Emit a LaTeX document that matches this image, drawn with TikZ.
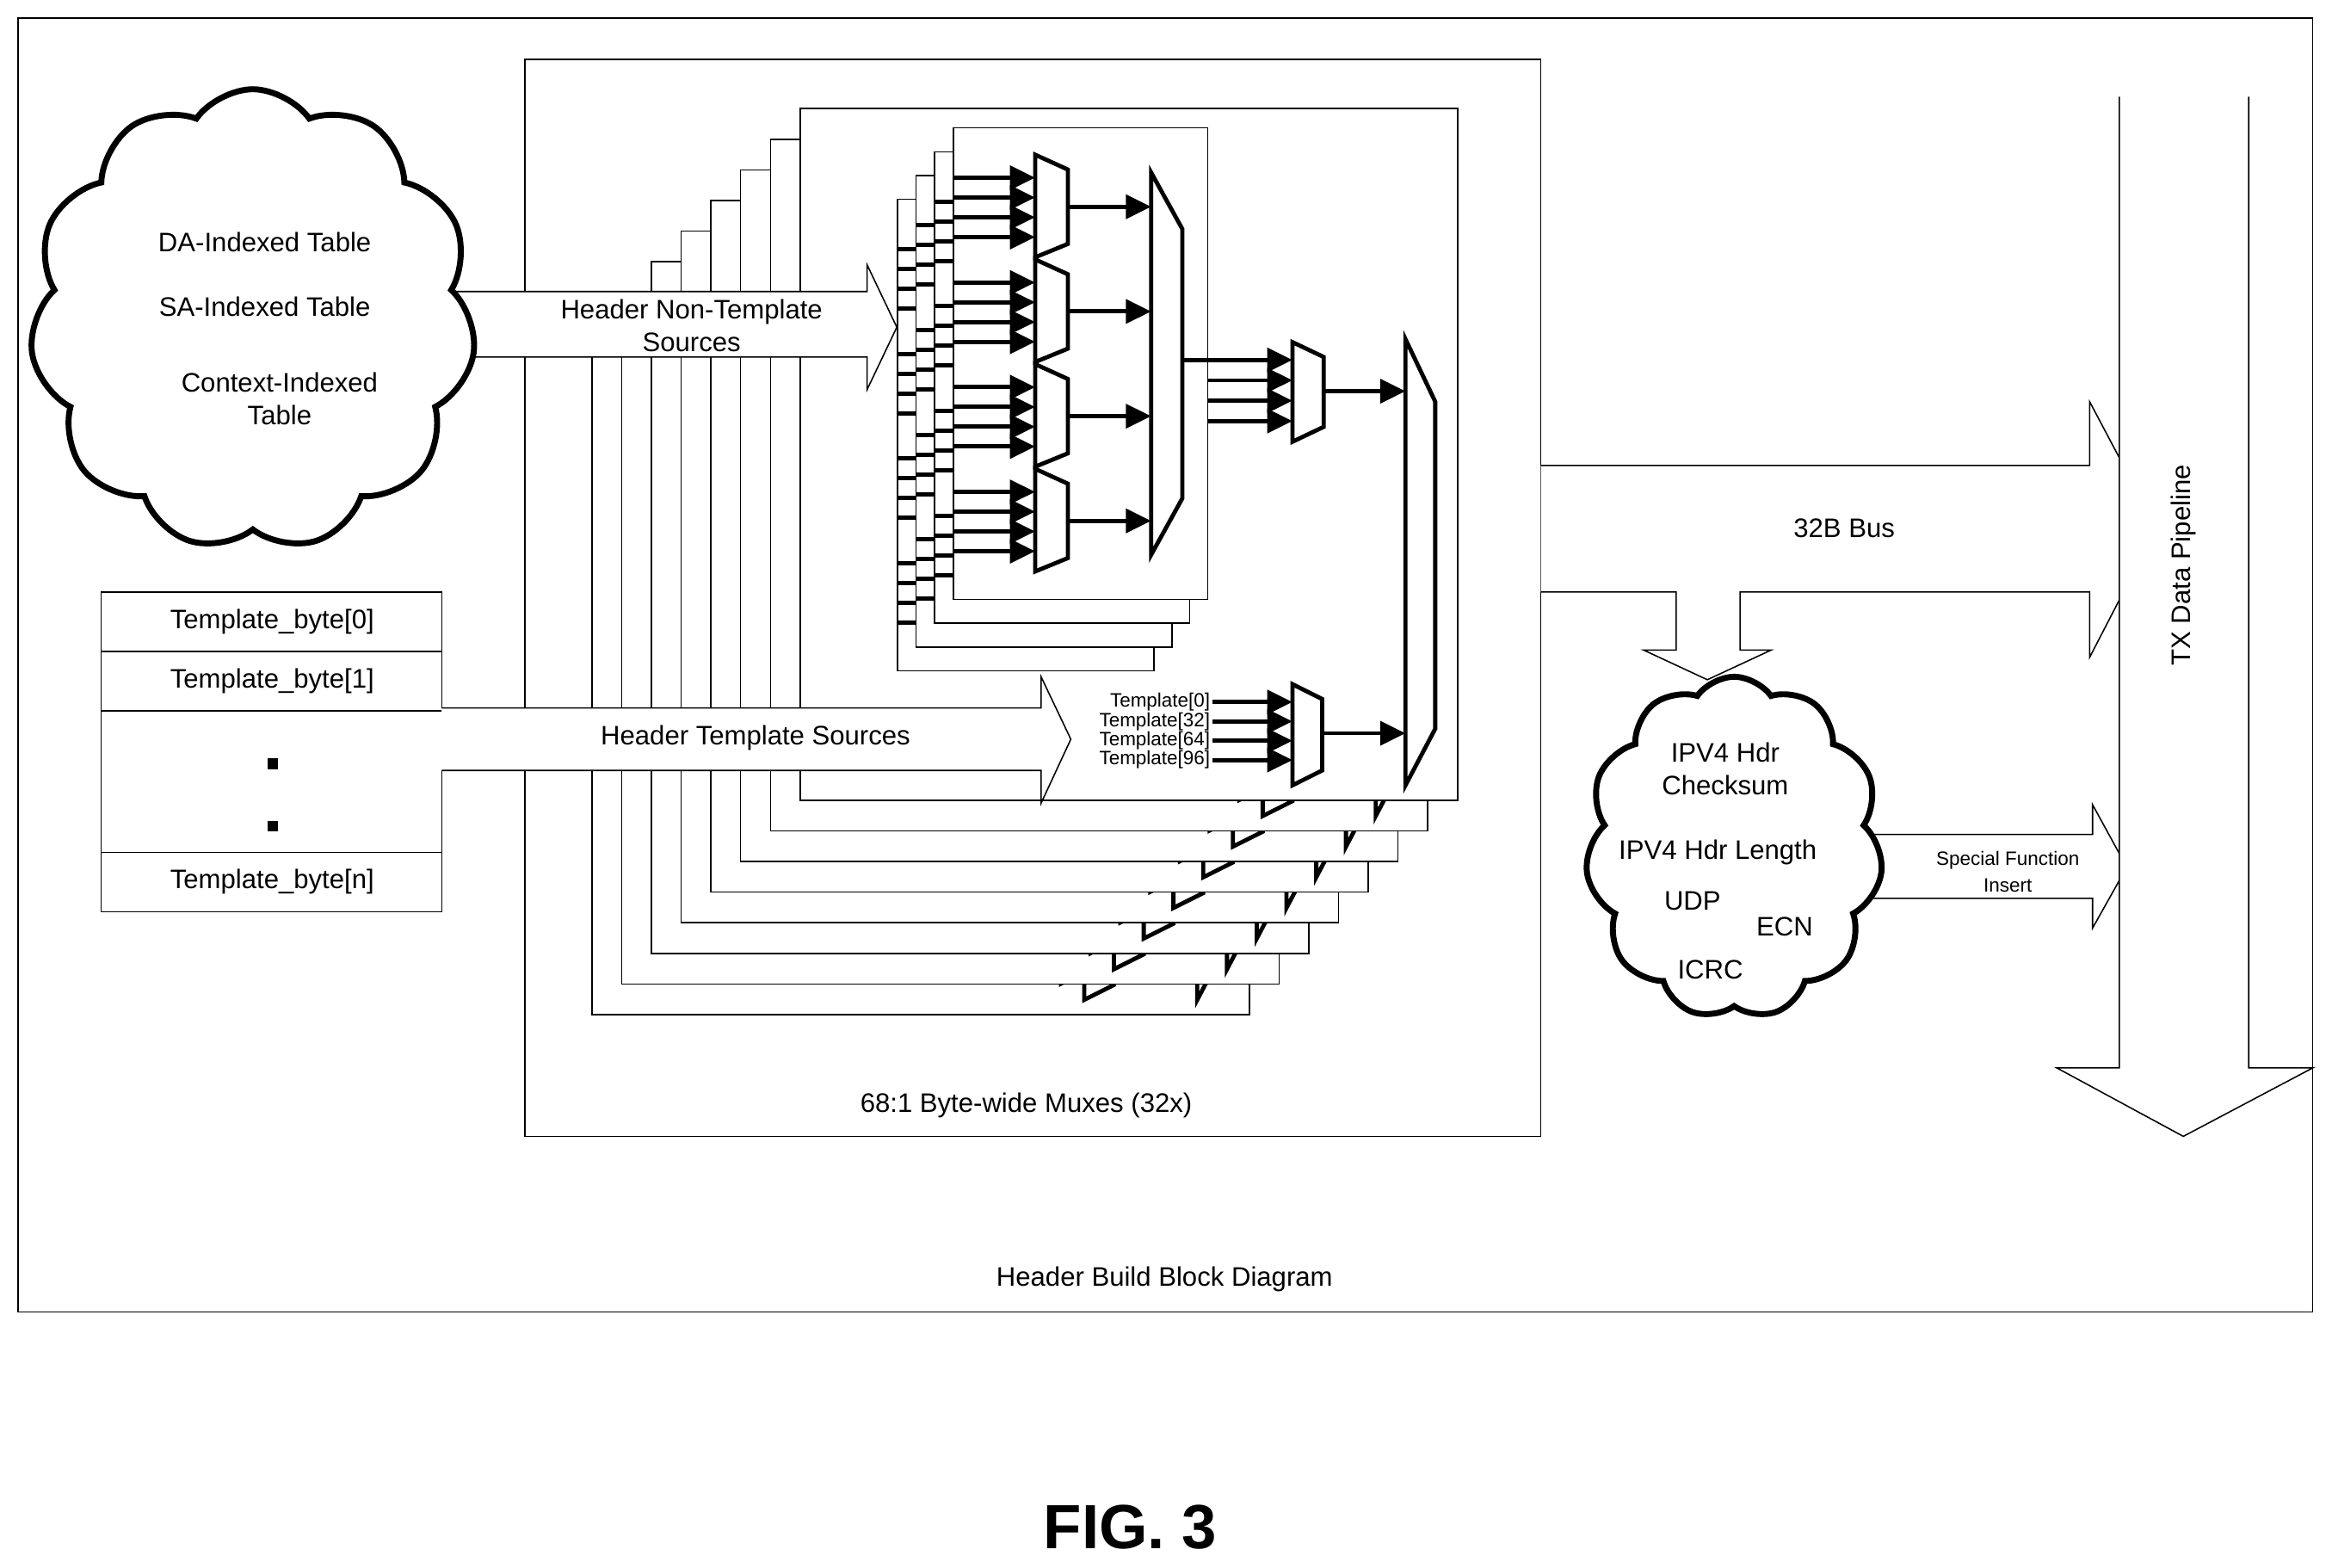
\documentclass[tikz,border=0pt]{standalone}
\usepackage{fontspec}
\setmainfont{Liberation Sans}
\usetikzlibrary{shapes.symbols,arrows.meta}
\begin{document}
\begin{tikzpicture}[x=0.5pt,y=-0.5pt,
  thinl/.style={line width=0.45pt},
  page/.style={line width=0.45pt,fill=white},
  mux/.style={line width=1.4pt,fill=white,line join=miter},
  sig/.style={line width=1.4pt,-{Triangle[length=8.5pt,width=8pt]}},
  stub/.style={line width=1.4pt},
  lbl/.style={font=\fontsize{9}{11}\selectfont,inner sep=0pt,align=center},
  tlbl/.style={font=\fontsize{6.5}{7}\selectfont,inner sep=0pt,anchor=east},
  small/.style={font=\fontsize{6.5}{8}\selectfont,inner sep=0pt,align=center},
  cloudy/.style={cloud,draw,line width=2pt,fill=white,cloud puffs=11,cloud puff arc=110}]
\useasboundingbox (0,0) rectangle (1568,1054);
\newcommand\pagecontent{%
  \draw[page] (0,0) rectangle (442,465);
  \foreach \k in {3,2,1}{%
    \draw[page] ({103-12.5*\k},{13+16*\k}) rectangle ({274-12*\k},{330+16*\k});
    \foreach \m in {0,...,3}{\foreach \j in {0,...,3}{%
      \draw[stub] ({103-12.5*\k},{46.5+16*\k+70.4*\m+13.3*\j}) -- ++(40,0);}}}
  \draw[page] (103,13) rectangle (274,330);
  \foreach \m in {0,...,3}{%
    \foreach \j in {0,...,3}{\draw[sig] (103,{46.5+70.4*\m+13.3*\j}) -- (158,{46.5+70.4*\m+13.3*\j});}
    \draw[mux] (158,{31+70.4*\m}) -- (180,{41+70.4*\m}) -- (180,{91+70.4*\m}) -- (158,{100+70.4*\m}) -- cycle;
    \draw[sig] (180,{66+70.4*\m}) -- (236,{66+70.4*\m});}
  \draw[mux] (236,43) -- (257,81) -- (257,262) -- (236,300) -- cycle;
  \draw[sig] (257,169) -- (331,169);
  \foreach \j in {1,2,3}{\draw[sig] (274,{169+13.7*\j}) -- (331,{169+13.7*\j});}
  \draw[mux] (331,157) -- (352,167) -- (352,214) -- (331,224) -- cycle;
  \draw[sig] (352,190) -- (407,190);
  \foreach \t/\q in {0/0,32/1,64/2,96/3}{%
    \ifnum\i=0 \node[tlbl] at (276,{399+13*\q}) {Template[\t]};\fi
    \draw[sig] (277,{399+13*\q}) -- (331,{399+13*\q});}
  \draw[mux] (331,387) -- (351,397) -- (351,445) -- (331,455) -- cycle;
  \draw[sig] (351,420) -- (407,420);
  \draw[mux] (407,155) -- (427,197) -- (427,417) -- (407,455) -- cycle;
}
% frames
\draw[thinl] (12,12) rectangle (1555,882);
\node[lbl] (title) at (783,860) {Header Build Block Diagram};
\node[font=\bfseries\fontsize{21}{24}\selectfont] (fig) at (760,1027) {FIG. 3};
\draw[page] (353,40) rectangle (1036,764);
\node[lbl] (muxlbl) at (690,743) {68:1 Byte-wide Muxes (32x)};
% stacked pages
\foreach \i in {7,6,...,0}{%
  \begin{scope}[shift={({538-20*\i},{73+20.6*\i})}]
    \pagecontent
  \end{scope}}
% non-template arrow
\fill[white] (300,196) -- (583,196) -- (583,178) -- (603,220) -- (583,262) -- (583,240) -- (300,240) -- cycle;
\draw[thinl] (300,196) -- (583,196) -- (583,178) -- (603,220) -- (583,262) -- (583,240) -- (300,240);
\node[lbl] (nts) at (465,219) {Header Non-Template\\[0pt]Sources};
% left cloud
\node[cloudy,minimum width=150pt,minimum height=155pt] (tables) at (170,215) {};
\node[lbl] (da) at (178,163) {DA-Indexed Table};
\node[lbl] (sa) at (178,206) {SA-Indexed Table};
\node[lbl] (ctx) at (188,268) {Context-Indexed\\[0pt]Table};
% template table
\fill[white] (68,398) rectangle (297,613);
\draw[thinl] (297,476) -- (297,398) -- (68,398) -- (68,613) -- (297,613) -- (297,518);
\draw[thinl] (68,438) -- (297,438) (68,478) -- (297,478) (68,573) -- (297,573);
\node[lbl] (t0) at (183,418) {Template\_byte[0]};
\node[lbl] (t1) at (183,458) {Template\_byte[1]};
\node[lbl] (tn) at (183,593) {Template\_byte[n]};
\fill (180,510) rectangle (187,517);
\fill (180,552) rectangle (187,559);
% template arrow
\fill[white] (297,476) -- (700,476) -- (700,455) -- (720,497) -- (700,540) -- (700,518) -- (297,518) -- cycle;
\draw[thinl] (297,476) -- (700,476) -- (700,455) -- (720,497) -- (700,540) -- (700,518) -- (297,518);
\node[lbl] (ts) at (508,496) {Header Template Sources};
% bus arrow
\fill[white] (1036,313) -- (1405,313) -- (1405,270) -- (1450,355) -- (1405,442) -- (1405,398) -- (1170,398) -- (1170,437) -- (1191,437) -- (1148,457) -- (1105,437) -- (1127,437) -- (1127,398) -- (1036,398) -- cycle;
\draw[thinl] (1036,313) -- (1405,313) -- (1405,270) -- (1450,355) -- (1405,442) -- (1405,398) -- (1170,398) -- (1170,437) -- (1191,437) -- (1148,457) -- (1105,437) -- (1127,437) -- (1127,398) -- (1036,398);
\node[lbl] (bus) at (1240,355) {32B Bus};
% special function arrow
\fill[white] (1240,561) -- (1407,561) -- (1407,541) -- (1430,583) -- (1407,624) -- (1407,604) -- (1240,604) -- cycle;
\draw[thinl] (1240,561) -- (1407,561) -- (1407,541) -- (1430,583) -- (1407,624) -- (1407,604) -- (1240,604);
\node[small] (sfi) at (1350,586) {Special Function\\[1pt]Insert};
% right cloud
\node[cloudy,minimum width=100pt,minimum height=115pt] (func) at (1166,570) {};
\node[lbl] (ip1) at (1160,517) {IPV4 Hdr\\[0pt]Checksum};
\node[lbl] (ip2) at (1155,573) {IPV4 Hdr Length};
\node[lbl] (udp) at (1138,606) {UDP};
\node[lbl] (ecn) at (1200,623) {ECN};
\node[lbl] (icrc) at (1150,652) {ICRC};
% TX pipeline
\fill[white] (1425,65) -- (1425,718) -- (1383,718) -- (1468,764) -- (1555,718) -- (1512,718) -- (1512,65) -- cycle;
\draw[thinl] (1425,65) -- (1425,718) -- (1383,718) -- (1468,764) -- (1555,718) -- (1512,718) -- (1512,65);
\node[lbl,rotate=90] (tx) at (1468,380) {TX Data Pipeline};
\end{tikzpicture}
\end{document}
